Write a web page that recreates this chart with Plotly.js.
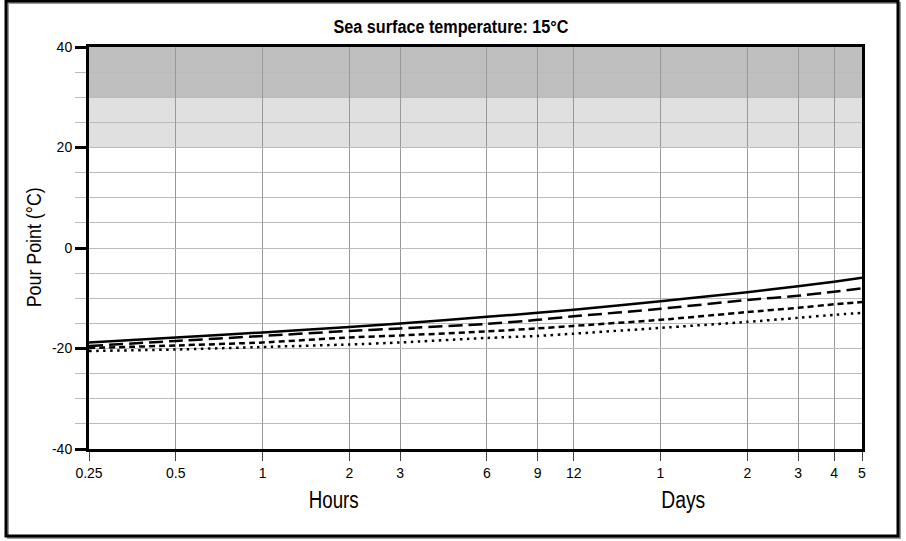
<!DOCTYPE html>
<html>
<head>
<meta charset="utf-8">
<script src="https://cdn.plot.ly/plotly-3.0.1.min.js"></script>
<style>html,body{margin:0;padding:0;background:#fff;}#chart{width:906px;height:541px;}</style>
</head>
<body>
<div id="chart"></div>
<script>
// Time in hours (log axis)
const hours = [0.25, 0.5, 1, 2, 3, 6, 9, 12, 24, 48, 72, 96, 120];
const tickLabels = ["0.25", "0.5", "1", "2", "3", "6", "9", "12", "1", "2", "3", "4", "5"];
const yTickVals = [-40, -20, 0, 20, 40];
const yTickLabels = ["-40", "-20", "0", "20", "40"];

// Pour point series (°C)
const seriesSolid = [-18.8, -17.8, -16.8, -15.7, -15.0, -13.7, -12.9, -12.3, -10.6, -8.8, -7.6, -6.7, -5.9];
const seriesLongDash = [-19.5, -18.5, -17.5, -16.5, -16.0, -15.1, -14.3, -13.6, -12.1, -10.35, -9.5, -8.7, -8.0];
const seriesShortDash = [-19.9, -19.4, -18.8, -17.8, -17.4, -16.6, -16.0, -15.5, -14.3, -12.75, -11.9, -11.2, -10.75];
const seriesDotted = [-20.5, -20.2, -19.7, -19.2, -18.8, -17.9, -17.5, -17.05, -15.9, -14.7, -13.9, -13.3, -12.9];

// Shaded bands
const darkBand = [30, 40];
const lightBand = [20, 30];

const font = "Liberation Sans, Arial, sans-serif";

function tr(y, dash) {
  return {x: hours, y: y, type: "scatter", mode: "lines",
    line: {color: "#000", width: 2.5, dash: dash, shape: "spline", smoothing: 0.5},
    hoverinfo: "skip", showlegend: false};
}

const data = [
  tr(seriesSolid, "solid"),
  tr(seriesLongDash, "14px,6px"),
  tr(seriesShortDash, "6px,4px"),
  tr(seriesDotted, "2.5px,4.5px")
];

const L = 89, R = 862, T = 47, B = 449, W = 906, H = 541;
const px = v => (v - L) / (R - L);
const py = v => (B - v) / (B - T);

const layout = {
  width: W, height: H,
  margin: {l: L, r: W - R, t: T, b: H - B, pad: 0},
  paper_bgcolor: "#fff", plot_bgcolor: "#fff",
  font: {family: font, color: "#000", size: 14},
  title: {text: "<b>Sea surface temperature: 15°C</b>", font: {family: font, size: 18, color: "#000"},
    x: 451 / W, xref: "container", xanchor: "center", y: 1 - 27 / H, yref: "container", yanchor: "middle"},
  showlegend: false,
  xaxis: {type: "log", range: [Math.log10(0.25), Math.log10(120)],
    tickmode: "array", tickvals: hours, ticktext: tickLabels,
    showgrid: true, gridcolor: "#999", gridwidth: 1,
    ticks: "outside", ticklen: 9, tickwidth: 1, tickcolor: "#444",
    showline: true, linecolor: "#000", linewidth: 3, mirror: true,
    zeroline: false, tickfont: {family: font, size: 14, color: "#000"}},
  yaxis: {range: [-40, 40], tickmode: "array", tickvals: yTickVals, ticktext: yTickLabels,
    showgrid: true, gridcolor: "#bbb", gridwidth: 1,
    ticks: "outside", ticklen: 11, tickwidth: 3, tickcolor: "#000",
    minor: {dtick: 5, tick0: 0, ticks: "outside", ticklen: 11, tickwidth: 1, tickcolor: "#bbb",
      showgrid: true, gridcolor: "#bbb", gridwidth: 1},
    showline: true, linecolor: "#000", linewidth: 3, mirror: true,
    zeroline: false, tickfont: {family: font, size: 14, color: "#000"}},
  shapes: [
    {type: "rect", xref: "paper", yref: "y", x0: 0, x1: 1, y0: darkBand[0], y1: darkBand[1],
      fillcolor: "#bfbfbf", line: {width: 0}, layer: "below"},
    {type: "rect", xref: "paper", yref: "y", x0: 0, x1: 1, y0: lightBand[0], y1: lightBand[1],
      fillcolor: "#e0e0e0", line: {width: 0}, layer: "below"},
    {type: "rect", xref: "paper", yref: "paper", x0: px(8), x1: px(900), y0: py(538), y1: py(3),
      line: {color: "#999", width: 2}, layer: "above"},
    {type: "rect", xref: "paper", yref: "paper", x0: px(6), x1: px(898), y0: py(536), y1: py(1),
      line: {color: "#000", width: 3}, layer: "above"}
  ],
  annotations: [
    {text: "Pour Point (°C)", xref: "paper", yref: "paper", x: px(33), y: 0.5, textangle: -90,
      xanchor: "center", yanchor: "middle",
      showarrow: false, font: {family: font, size: 21, color: "#000"}},
    {text: "Hours", xref: "paper", yref: "paper", x: px(333), y: py(500), showarrow: false,
      xanchor: "center", yanchor: "middle",
      font: {family: font, size: 23, color: "#000"}},
    {text: "Days", xref: "paper", yref: "paper", x: px(683), y: py(500), showarrow: false,
      xanchor: "center", yanchor: "middle",
      font: {family: font, size: 23, color: "#000"}}
  ]
};

// Reference typeface is a condensed sans; squeeze glyphs horizontally to the measured widths.
const squeeze = {"Sea surface temperature: 15°C": 235, "Pour Point (°C)": 120, "Hours": 50, "Days": 44};

Plotly.newPlot("chart", data, layout, {staticPlot: true, displayModeBar: false}).then(function (gd) {
  gd.querySelectorAll("text.gtitle, text.annotation-text").forEach(function (t) {
    const w = squeeze[t.textContent];
    if (w) {
      t.setAttribute("textLength", w);
      t.setAttribute("lengthAdjust", "spacingAndGlyphs");
    }
  });
});
</script>
</body>
</html>
